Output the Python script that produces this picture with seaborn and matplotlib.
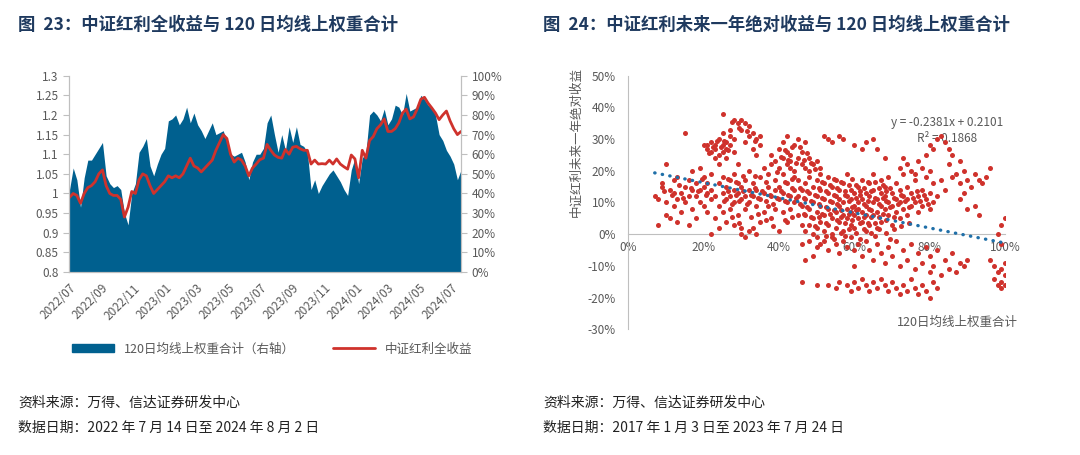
import numpy as np
import pandas as pd
import matplotlib
matplotlib.use("Agg")
import matplotlib.pyplot as plt
from matplotlib.ticker import FuncFormatter, MultipleLocator
from matplotlib.patches import Patch
from matplotlib.lines import Line2D
import seaborn as sns

# -------------------------------
# Data
# -------------------------------
# left chart: weekly values, 2022-07-15 .. 2024-08-02
index_tr = [0.99, 1.0, 0.995, 0.975, 1.0, 1.015, 1.02, 1.03, 1.05, 1.06,
            1.02, 1.0, 0.995, 0.995, 0.985, 0.94, 0.965, 1.005, 1.0, 1.035,
            1.05, 1.045, 1.02, 1.0, 1.01, 1.02, 1.03, 1.045, 1.04, 1.045,
            1.04, 1.05, 1.07, 1.09, 1.07, 1.065, 1.055, 1.065, 1.075, 1.085,
            1.11, 1.13, 1.15, 1.14, 1.1, 1.08, 1.09, 1.085, 1.07, 1.045,
            1.065, 1.075, 1.086, 1.09, 1.125, 1.11, 1.098, 1.092, 1.09, 1.112,
            1.1, 1.118, 1.12, 1.114, 1.11, 1.11, 1.075, 1.085, 1.075, 1.076,
            1.075, 1.085, 1.075, 1.088, 1.075, 1.068, 1.062, 1.098, 1.088, 1.04,
            1.11, 1.09, 1.135, 1.145, 1.165, 1.175, 1.19, 1.158, 1.158, 1.165,
            1.18, 1.205, 1.215, 1.19, 1.195, 1.215, 1.24, 1.245, 1.23, 1.218,
            1.205, 1.188, 1.2, 1.21, 1.185, 1.165, 1.15, 1.158]
weight_pct = [42, 53, 47, 33, 48, 57, 57, 60, 63, 66,
              49, 45, 43, 44, 42, 30, 24, 40, 45, 61,
              64, 68, 54, 49, 55, 60, 63, 77, 78, 80,
              75, 78, 84, 76, 81, 75, 72, 68, 72, 76,
              70, 71, 72, 66, 60, 59, 60, 61, 56, 47,
              56, 60, 60, 63, 76, 80, 70, 61, 70, 62,
              74, 66, 74, 65, 64, 61, 42, 47, 40, 44,
              47, 50, 52, 49, 46, 42, 39, 52, 58, 45,
              58, 61, 80, 82, 80, 77, 83, 75, 78, 85,
              84, 80, 91, 82, 83, 84, 90, 88, 85, 84,
              80, 70, 67, 62, 59, 55, 47, 52]
dates = pd.date_range("2022-07-15", periods=len(index_tr), freq="W-FRI")
tick_dates = pd.date_range("2022-07-14", periods=13, freq=pd.DateOffset(months=2))

# right chart: (120-day weight %, next-year return %)
pts_low = [(7, 12), (8, 11), (8, 3), (9, 15), (9, 16), (10, 10), (10, 6), (10, 22), (11, 14), (11, 5),
           (12, 13), (12, 9), (12, 17), (13, 18), (13, 11), (13, 4), (14, 13), (14, 7), (15, 15), (15, 32),
           (15, 10), (16, 17), (16, 12), (16, 3), (17, 14), (17, 8), (17, 20), (18, 16), (18, 12), (18, 5),
           (19, 14), (19, 10), (19, 21), (20, 15), (20, 18), (20, 9), (21, 13), (21, 7), (21, 16), (22, 11),
           (22, 0), (22, 19), (9.5, 13.5), (11.5, 12.5), (13.5, 15.5), (14.5, 11.5), (16.5, 14.5),
           (18.5, 13.5), (19.5, 17.5), (20.5, 12.5)]
pts_high_left = [(20, 28), (21, 27), (21, 28), (22, 29), (22, 26), (23, 28), (23, 24), (23, 27), (24, 30), (24, 25),
                 (24, 22), (25, 28), (25, 26), (25, 32), (25, 38), (26, 27), (26, 29), (26, 24), (27, 28), (27, 31),
                 (27, 33), (28, 30), (28, 36), (28, 26), (29, 35), (29, 22), (30, 36), (30, 33), (31, 35), (31, 29),
                 (32, 34), (32, 31), (33, 32), (33, 27), (34, 30), (34, 25), (35, 31), (35, 28),
                 (22.5, 27.5), (23.5, 29.5), (24.5, 27.5), (25.5, 29.5), (26.5, 26.5), (21.5, 25.5),
                 (27.5, 35.5), (29.5, 33.5), (31.5, 32.5), (33.5, 29.5)]
pts_mid = [(22, 14), (23, 12), (23, 5), (24, 16), (24, 9), (24, 2), (25, 13), (25, 18), (25, 7), (26, 11),
           (26, 15), (26, 4), (27, 12), (27, 17), (27, 8), (28, 14), (28, 10), (28, 19), (28, 3), (29, 13),
           (29, 6), (29, 16), (30, 11), (30, 0), (30, 2), (30, 15), (31, 12), (31, -1), (31, 8), (31, 17),
           (32, 14), (32, 1), (32, 10), (32, 20), (33, 12), (33, 2), (33, 16), (34, 9), (34, 0), (34, 14),
           (35, 11), (35, 4), (35, 18), (36, 13), (36, 7), (36, 21), (37, 15), (37, 9), (37, 19), (38, 12),
           (38, 5), (38, 22), (39, 14), (39, 8), (39, 17), (40, 11), (40, 15), (40, 1), (41, 13), (41, 7),
           (41, 19), (42, 10), (42, 16), (42, 4), (43, 12), (43, 21), (43, 8), (44, 14), (44, 10), (44, 18)]
pts_mid2 = [(25.5, 10.5), (26.5, 13.5), (27.5, 9.5), (28.5, 12.5), (29.5, 10.5), (30.5, 13.5), (31.5, 9.5),
            (32.5, 12.5), (33.5, 14.5), (34.5, 11.5), (35.5, 13.5), (36.5, 10.5), (37.5, 12.5), (38.5, 9.5),
            (39.5, 11.5), (40.5, 13.5), (41.5, 10.5), (42.5, 12.5), (43.5, 14.5), (44.5, 11.5),
            (26.5, 17.5), (28.5, 16.5), (30.5, 18.5), (33.5, 18.5), (36.5, 16.5), (39.5, 19.5), (41.5, 16.5),
            (43.5, 17.5), (27.5, 5.5), (29.5, 3.5), (32.5, 5.5), (34.5, 6.5), (36.5, 4.5), (38.5, 2.5),
            (41.5, 4.5), (43.5, 5.5)]
pts_upper_mid = [(38, 25), (39, 23), (40, 27), (40, 21), (41, 24), (41, 29), (42, 22), (42, 26), (42, 31), (43, 25),
                 (43, 23), (44, 28), (44, 20), (45, 24), (45, 30), (46, 22), (46, 26), (47, 21), (47, 29), (48, 24),
                 (48, 20), (49, 22), (50, 23), (51, 21), (52, 31), (53, 30), (54, 29), (56, 31), (57, 30), (60, 28),
                 (62, 27), (63, 29), (65, 30), (66, 27), (68, 24),
                 (40.5, 24.5), (41.5, 26.5), (42.5, 23.5), (43.5, 27.5), (44.5, 22.5), (45.5, 27.5),
                 (46.5, 23.5), (47.5, 25.5), (48.5, 22.5), (49.5, 20.5)]
pts_core = [(45, 12), (45, 6), (45, 17), (46, 9), (46, 14), (46, 3), (47, 11), (47, 16), (47, 6), (47, 1),
            (48, 13), (48, 8), (48, 18), (48, 3), (49, 10), (49, 15), (49, 5), (49, 0), (50, 12), (50, 7),
            (50, 17), (50, 2), (51, 9), (51, 14), (51, 4), (51, 19), (52, 11), (52, 6), (52, 16), (52, 1),
            (53, 8), (53, 13), (53, 3), (53, 18), (54, 10), (54, 5), (54, 15), (54, 0), (55, 12), (55, 7),
            (55, 17), (55, 2), (56, 9), (56, 14), (56, 4), (56, 11), (57, 6), (57, 10), (57, 16), (57, 1),
            (58, 8), (58, 12), (58, 5), (58, 19), (59, 7), (59, 11), (59, 3), (59, 14), (60, 9), (60, 6),
            (60, 13), (60, 2), (61, 10), (61, 5), (61, 15), (61, 8), (62, 7), (62, 11), (62, 4), (62, 17),
            (63, 9), (63, 13), (63, 6), (63, 1), (64, 8), (64, 12), (64, 16), (64, 3), (65, 10), (65, 6),
            (65, 14), (65, 19), (66, 7), (66, 11), (66, 2), (67, 9), (67, 13), (67, 17), (67, 4), (68, 8),
            (68, 12), (68, 15), (69, 10), (69, 6), (69, 18), (70, 9), (70, 13), (70, 3), (71, 11), (71, 7),
            (71, 16), (72, 10), (72, 14), (72, 5), (73, 8), (73, 12), (73, 19), (74, 11), (74, 6), (74, 15),
            (75, 9), (75, 13), (76, 10), (76, 17), (77, 12), (77, 7), (78, 14), (78, 9), (79, 11), (79, 18),
            (80, 13), (80, 8), (81, 16), (81, 10), (82, 12), (83, 17), (84, 14)]
pts_core2 = [(50.5, 9.5), (51.5, 11.5), (52.5, 8.5), (53.5, 10.5), (54.5, 12.5), (55.5, 9.5), (56.5, 7.5),
             (57.5, 12.5), (58.5, 10.5), (59.5, 8.5), (60.5, 11.5), (61.5, 12.5), (62.5, 9.5), (63.5, 10.5),
             (64.5, 7.5), (65.5, 11.5), (66.5, 9.5), (67.5, 11.5), (68.5, 10.5), (69.5, 8.5),
             (50.5, 5.5), (51.5, 6.5), (52.5, 3.5), (53.5, 6.5), (54.5, 7.5), (55.5, 4.5), (56.5, 5.5),
             (57.5, 3.5), (58.5, 6.5), (59.5, 4.5), (60.5, 7.5), (61.5, 3.5), (62.5, 5.5), (63.5, 3.5),
             (64.5, 5.5), (65.5, 3.5), (66.5, 5.5), (67.5, 6.5), (68.5, 4.5), (70.5, 5.5),
             (50.5, 14.5), (51.5, 16.5), (52.5, 13.5), (53.5, 15.5), (54.5, 17.5), (55.5, 14.5), (56.5, 16.5),
             (57.5, 13.5), (58.5, 15.5), (59.5, 17.5), (60.5, 15.5), (61.5, 13.5), (62.5, 14.5), (63.5, 16.5),
             (64.5, 13.5), (65.5, 16.5), (66.5, 14.5), (67.5, 15.5), (68.5, 13.5), (69.5, 14.5),
             (70.5, 11.5), (71.5, 9.5), (72.5, 12.5), (73.5, 10.5), (74.5, 8.5), (75.5, 11.5), (76.5, 13.5),
             (77.5, 10.5), (78.5, 12.5), (79.5, 9.5), (46.5, 11.5), (47.5, 8.5), (48.5, 10.5), (49.5, 12.5),
             (45.5, 14.5), (46.5, 6.5), (47.5, 13.5), (48.5, 5.5), (49.5, 2.5), (45.5, 9.5),
             (56.5, 0.5), (58.5, 1.5), (60.5, 0.5), (62.5, 1.5), (64.5, 0.5), (66.5, 1.5), (68.5, 0.5),
             (70.5, 1.5), (72.5, 2.5), (74.5, 3.5), (52.5, -0.5), (54.5, -1.5), (57.5, -0.5), (61.5, -1.5),
             (65.5, -0.5), (69.5, -1.5)]
pts_upper_right = [(72, 21), (73, 24), (74, 22), (75, 20), (76, 19), (77, 23), (78, 21), (79, 25), (80, 20), (80, 28),
                   (81, 27), (82, 30), (83, 31), (84, 29), (85, 27), (85, 22), (86, 25), (86, 18), (87, 19), (88, 23),
                   (88, 16), (89, 20), (90, 17), (91, 15), (92, 19), (93, 17), (94, 16), (95, 18), (96, 21), (88, 11),
                   (90, 8), (89, 13), (92, 9), (93, 6)]
pts_below = [(46, -3), (47, -8), (48, -2), (49, -7), (50, -1), (50, -4), (51, -3), (52, -2), (53, -5), (54, -1),
             (55, -3), (56, -6), (57, -2), (58, -4), (59, -1), (60, -5), (60, -10), (61, -3), (62, -7), (63, -2),
             (64, -5), (65, -8), (66, -3), (67, -6), (68, -9), (69, -4), (70, -7), (71, -2), (72, -10), (73, -5),
             (74, -8), (75, -3), (76, -11), (77, -6), (78, -9), (79, -4), (80, -7), (80, -12), (81, -10), (82, -5),
             (83, -13), (84, -8), (85, -11), (86, -6), (87, -12), (88, -9), (89, -10), (90, -8)]
pts_band = [(46, -15), (50, -16), (53, -16), (55, -17), (56, -15), (58, -16), (59, -18), (60, -15), (61, -17), (62, -14),
            (63, -16), (64, -18), (65, -15), (66, -17), (67, -14), (68, -16), (69, -18), (70, -15), (71, -17), (72, -19),
            (73, -16), (74, -18), (75, -14), (76, -17), (77, -19), (78, -16), (79, -18), (80, -20), (81, -15), (82, -17)]
pts_full = [(96, -8), (97, -10), (97, -14), (98, -12), (98, -16), (99, -11), (99, -15), (99, -17), (100, -13), (100, -16),
            (100, -9), (98, 0), (99, 3), (100, 5), (99, -3)]

trend_slope = -0.2381
trend_intercept = 0.2101

# -------------------------------
# Style
# -------------------------------
sns.set_style("white")
plt.rcParams['font.family'] = ['Noto Sans CJK SC', 'DejaVu Sans']
plt.rcParams['axes.unicode_minus'] = False

BLUE = "#00608F"
RED = "#CF322C"
GREY = "#BFBFBF"
TXT = "#595959"
TITLE = "#1F3A5F"

fig = plt.figure(figsize=(10.8, 4.55), dpi=100)

# -------------------------------
# Left chart: index vs weight
# -------------------------------
ax1 = fig.add_axes([0.0639, 0.4022, 0.3630, 0.4314])
ax2 = ax1.twinx()
ax2.fill_between(dates, np.array(weight_pct) / 100, color=BLUE, lw=0)
sns.lineplot(x=dates, y=index_tr, ax=ax1, color=RED, lw=2)
ax1.set_zorder(ax2.get_zorder() + 1)
ax1.patch.set_visible(False)

ax1.set_xlim(pd.Timestamp("2022-07-14"), pd.Timestamp("2024-08-02"))
ax1.set_ylim(0.8, 1.3)
ax1.yaxis.set_major_locator(MultipleLocator(0.05))
ax1.yaxis.set_major_formatter(FuncFormatter(lambda v, p: f"{round(v, 2):g}"))
ax2.set_ylim(0, 1)
ax2.yaxis.set_major_locator(MultipleLocator(0.1))
ax2.yaxis.set_major_formatter(FuncFormatter(lambda v, p: f"{v * 100:.0f}%"))
ax1.set_xticks(tick_dates)
ax1.set_xticklabels([d.strftime("%Y/%m") for d in tick_dates], rotation=45,
                    ha="right", rotation_mode="anchor")
ax1.set_xlabel("")
ax1.set_ylabel("")

for a in (ax1, ax2):
    a.spines["top"].set_visible(False)
    for s in ("left", "right", "bottom"):
        a.spines[s].set_color(GREY)
    a.tick_params(colors=GREY, labelcolor=TXT, labelsize=8.5, length=4, width=0.8)
ax1.tick_params(axis="x", pad=3)

legend_items = [Patch(color=BLUE, label="120日均线上权重合计（右轴）"),
                Line2D([0], [0], color=RED, lw=2, label="中证红利全收益")]
fig.legend(handles=legend_items, loc="center", bbox_to_anchor=(0.252, 0.233), ncol=2,
           frameon=False, fontsize=9, handlelength=3.4, handleheight=0.6,
           columnspacing=3.0, labelcolor=TXT)

# -------------------------------
# Right chart: scatter
# -------------------------------
all_pts = (pts_low + pts_high_left + pts_mid + pts_mid2 + pts_upper_mid + pts_core + pts_core2
           + pts_upper_right + pts_below + pts_band + pts_full)
sc = pd.DataFrame(all_pts, columns=["weight", "ret"]) / 100

ax3 = fig.add_axes([0.5818, 0.2763, 0.3488, 0.5573])
sns.scatterplot(data=sc, x="weight", y="ret", ax=ax3, color=RED, s=13, linewidth=0, zorder=3)
tx = np.array([0.07, 1.0])
ax3.plot(tx, trend_slope * tx + trend_intercept, color="#1F6FA8", lw=2.4,
         linestyle=(0, (0.1, 2.2)), dash_capstyle="round", zorder=4)

ax3.set_xlim(0, 1)
ax3.set_ylim(-0.3, 0.5)
ax3.set_xticks(np.arange(0, 1.01, 0.2))
ax3.set_yticks(np.arange(-0.3, 0.51, 0.1))
ax3.xaxis.set_major_formatter(FuncFormatter(lambda v, p: f"{v * 100:.0f}%"))
ax3.yaxis.set_major_formatter(FuncFormatter(lambda v, p: f"{v * 100:.0f}%"))
ax3.spines["bottom"].set_position(("data", 0))
ax3.spines["top"].set_visible(False)
ax3.spines["right"].set_visible(False)
ax3.spines["left"].set_color(GREY)
ax3.spines["bottom"].set_color(GREY)
ax3.tick_params(length=0, labelcolor=TXT, labelsize=8.5)
ax3.tick_params(axis="y", pad=9)
ax3.tick_params(axis="x", pad=5)
ax3.set_xlabel("")
ax3.set_ylabel("")

ax3.text(0.847, 0.352, "y = -0.2381x + 0.2101", ha="center", va="center", fontsize=8.5, color=TXT, zorder=2)
ax3.text(0.847, 0.302, "R² = 0.1868", ha="center", va="center", fontsize=8.5, color=TXT, zorder=2)

fig.text(576 / 1080, 1 - 142 / 455, "中证红利未来一年绝对收益", rotation=90, ha="center", va="center",
         fontsize=9, color=TXT)
fig.text(1018 / 1080, 1 - 322 / 455, "120日均线上权重合计", ha="right", va="center", fontsize=9, color=TXT)

# -------------------------------
# Titles and footnotes
# -------------------------------
fig.text(18 / 1080, 1 - 25 / 455, "图  23：中证红利全收益与 120 日均线上权重合计", fontsize=12.5,
         fontweight="bold", color=TITLE, va="center")
fig.text(543 / 1080, 1 - 25 / 455, "图  24：中证红利未来一年绝对收益与 120 日均线上权重合计", fontsize=12.5,
         fontweight="bold", color=TITLE, va="center")
fig.text(18 / 1080, 1 - 403 / 455, "资料来源：万得、信达证券研发中心", fontsize=10, color="#222222", va="center")
fig.text(18 / 1080, 1 - 428 / 455, "数据日期：2022 年 7 月 14 日至 2024 年 8 月 2 日", fontsize=10, color="#222222", va="center")
fig.text(543 / 1080, 1 - 403 / 455, "资料来源：万得、信达证券研发中心", fontsize=10, color="#222222", va="center")
fig.text(543 / 1080, 1 - 428 / 455, "数据日期：2017 年 1 月 3 日至 2023 年 7 月 24 日", fontsize=10, color="#222222", va="center")

fig.savefig("out.png", dpi=100)
